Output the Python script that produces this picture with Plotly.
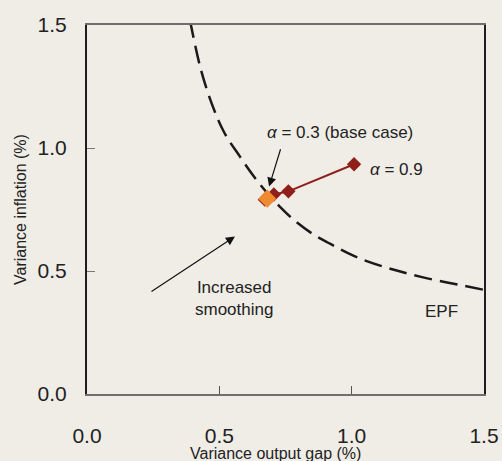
import plotly.graph_objects as go

# EPF frontier
epf_x = [0.389, 0.43, 0.476, 0.52, 0.578, 0.63, 0.68, 0.73, 0.78, 0.855, 0.92, 0.982, 1.057, 1.16, 1.27, 1.40, 1.53]
epf_y = [1.52, 1.32, 1.167, 1.06, 0.965, 0.885, 0.818, 0.76, 0.709, 0.649, 0.61, 0.575, 0.54, 0.505, 0.474, 0.445, 0.417]

# alpha path (alpha from 0.3 to 0.9)
alpha_x = [0.672, 0.706, 0.761, 1.009]
alpha_y = [0.790, 0.811, 0.824, 0.934]

# base case
base_x = [0.681]
base_y = [0.794]

tick_vals = [0.0, 0.5, 1.0, 1.5]
tick_text = ["0.0", "0.5", "1.0", "1.5"]

BG = "#f0ede7"
FONT = "Liberation Sans, Arial, sans-serif"
TXT = "#222222"

W, H = 502, 461
ML, MR, MT, MB = 87, 18, 25, 67
pw, ph = W - ML - MR, H - MT - MB


def px_to_paper(px, py):
    return (px - ML) / pw, (H - MB - py) / ph


fig = go.Figure()
fig.add_trace(go.Scatter(x=epf_x, y=epf_y, mode="lines",
                         line=dict(color="#1a1a1a", width=2.5, dash="18px,8px", shape="spline"),
                         cliponaxis=False, showlegend=False, hoverinfo="skip"))
fig.add_trace(go.Scatter(x=alpha_x, y=alpha_y, mode="lines+markers",
                         line=dict(color="#8e1f1a", width=2),
                         marker=dict(symbol="diamond", size=11, color="#8e1f1a"),
                         cliponaxis=False, showlegend=False))
fig.add_trace(go.Scatter(x=base_x, y=base_y, mode="markers",
                         marker=dict(symbol="diamond", size=14, color="#f08a30"),
                         cliponaxis=False, showlegend=False))

ytx, yty = px_to_paper(21, 210)
xtx, xty = px_to_paper(275, 453)

annotations = [
    dict(x=0.688, y=0.843, ax=0.733, ay=1.001, xref="x", yref="y", axref="x", ayref="y",
         text="", showarrow=True, arrowhead=2, arrowsize=1.5, arrowwidth=1.2, arrowcolor="#111"),
    dict(x=0.559, y=0.640, ax=0.238, ay=0.413, xref="x", yref="y", axref="x", ayref="y",
         text="", showarrow=True, arrowhead=2, arrowsize=1.5, arrowwidth=1.2, arrowcolor="#111"),
    dict(x=0.672, y=1.064, xref="x", yref="y", xanchor="left", yanchor="middle",
         text="<i>α</i> = 0.3 (base case)", showarrow=False, font=dict(size=17, color=TXT, family=FONT)),
    dict(x=1.06, y=0.912, xref="x", yref="y", xanchor="left", yanchor="middle",
         text="<i>α</i> = 0.9", showarrow=False, font=dict(size=17, color=TXT, family=FONT)),
    dict(x=0.556, y=0.39, xref="x", yref="y", xanchor="center", yanchor="middle",
         text="Increased<br>smoothing", showarrow=False, align="center",
         font=dict(size=17, color=TXT, family=FONT)),
    dict(x=1.34, y=0.335, xref="x", yref="y", xanchor="center", yanchor="middle",
         text="EPF", showarrow=False, font=dict(size=17, color=TXT, family=FONT)),
    dict(x=ytx, y=yty, xref="paper", yref="paper", xanchor="center", yanchor="middle",
         text="Variance inflation (%)", showarrow=False,
         textangle=-90, font=dict(size=16, color=TXT, family=FONT)),
    dict(x=xtx, y=xty, xref="paper", yref="paper", xanchor="center", yanchor="middle",
         text="Variance output gap (%)", showarrow=False,
         font=dict(size=16, color=TXT, family=FONT)),
]

fig.update_layout(
    width=W, height=H,
    paper_bgcolor=BG, plot_bgcolor=BG,
    margin=dict(l=ML, r=MR, t=MT, b=MB, autoexpand=False),
    font=dict(family=FONT, color=TXT),
    annotations=annotations,
    xaxis=dict(range=[0, 1.5], tickvals=tick_vals, ticktext=tick_text, showgrid=False, zeroline=False,
               automargin=False,
               ticks="inside", ticklen=8, tickcolor="#555", tickwidth=1,
               showline=True, linecolor="#6e6e6e", linewidth=2, mirror=True,
               tickfont=dict(size=21, color=TXT, family=FONT), ticklabelstandoff=22),
    yaxis=dict(range=[0, 1.5], tickvals=tick_vals, ticktext=tick_text, showgrid=False, zeroline=False,
               automargin=False,
               ticks="inside", ticklen=8, tickcolor="#777", tickwidth=1,
               showline=True, linecolor="#1e1e1e", linewidth=2, mirror=True,
               tickfont=dict(size=21, color=TXT, family=FONT), ticklabelstandoff=14),
)

fig.write_html("out.html", config={"displayModeBar": False},
               post_script="document.body.style.margin='0';document.body.style.padding='0';"
                           "document.body.style.background='" + BG + "';")
